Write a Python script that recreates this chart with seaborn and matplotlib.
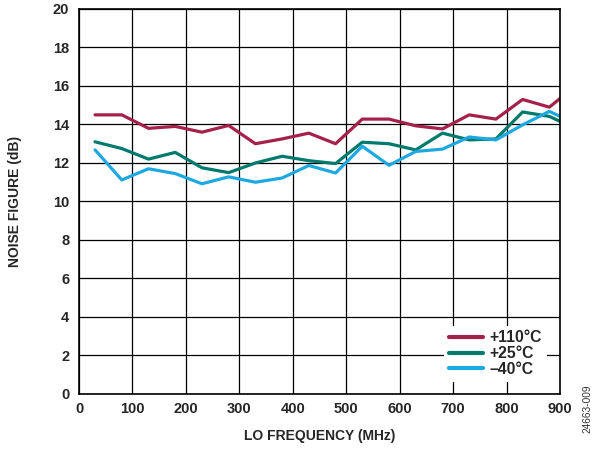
import numpy as np
import pandas as pd
import matplotlib
matplotlib.use("Agg")
import matplotlib.pyplot as plt
import seaborn as sns

# LO frequency sweep (MHz)
lo_freq = [30, 80, 130, 180, 230, 280, 330, 380, 430, 480, 530, 580, 630,
           680, 730, 780, 830, 880, 900]

# Noise figure (dB) at each temperature
nf_hot = [14.5, 14.5, 13.8, 13.9, 13.6, 13.95, 13.0, 13.25, 13.55, 13.0,
          14.28, 14.28, 13.93, 13.77, 14.5, 14.28, 15.3, 14.9, 15.35]
nf_room = [13.1, 12.75, 12.2, 12.55, 11.75, 11.5, 12.0, 12.35, 12.12, 11.97,
           13.08, 13.0, 12.68, 13.55, 13.2, 13.25, 14.65, 14.42, 14.16]
nf_cold = [12.68, 11.12, 11.7, 11.45, 10.92, 11.28, 11.0, 11.22, 11.87, 11.48,
           12.87, 11.88, 12.6, 12.72, 13.35, 13.2, 13.98, 14.68, 14.42]

series_labels = ["+110°C", "+25°C", "\u201340°C"]
series_colors = ["#A3214B", "#007A6C", "#1EA8E0"]

x_ticks = list(range(0, 901, 100))
y_ticks = list(range(0, 21, 2))

df = pd.concat([
    pd.DataFrame({"freq": lo_freq, "nf": vals, "temp": lab})
    for vals, lab in zip([nf_hot, nf_room, nf_cold], series_labels)
])

sns.set_theme(style="white")
plt.rcParams["font.family"] = ["Liberation Sans", "DejaVu Sans"]

fig = plt.figure(figsize=(6.0, 4.49), dpi=100)
ax = fig.add_axes([0.1317, 0.1225, 0.8017, 0.8575])

sns.lineplot(data=df, x="freq", y="nf", hue="temp", hue_order=series_labels,
             palette=series_colors, linewidth=2.3, ax=ax, sort=False,
             estimator=None)

ax.set_xlim(0, 900)
ax.set_ylim(0, 20)
ax.set_xticks(x_ticks)
ax.set_yticks(y_ticks)
ax.grid(True, color="black", linewidth=0.9)
ax.set_axisbelow(True)
for s in ax.spines.values():
    s.set_color("black")
    s.set_linewidth(1.2)
ax.tick_params(axis="both", length=0, labelsize=10.5)
ax.tick_params(axis="x", pad=6)
ax.tick_params(axis="y", pad=7)
for lbl in ax.get_xticklabels() + ax.get_yticklabels():
    lbl.set_fontweight("bold")

ax.set_xlabel("LO FREQUENCY (MHz)", fontsize=10, fontweight="bold", labelpad=9)
ax.set_ylabel("NOISE FIGURE (dB)", fontsize=10, fontweight="bold", labelpad=22)

leg = ax.legend(loc="lower right", bbox_to_anchor=(0.972, 0.032),
                borderaxespad=0, frameon=True, fancybox=False, framealpha=1.0,
                edgecolor="white", fontsize=11.3, handlelength=2.2,
                handletextpad=0.4, labelspacing=0.05, borderpad=0.3)
leg.get_frame().set_linewidth(0)
for t in leg.get_texts():
    t.set_fontweight("bold")
for h in leg.get_lines():
    h.set_linewidth(3)

fig.text(0.979, 1 - 433 / 449, "24663-009", rotation=90, fontsize=7.3,
         family=["Liberation Sans Narrow", "Liberation Sans", "DejaVu Sans"],
         ha="center", va="bottom", color="#333333")

fig.savefig("out.png", dpi=100)
